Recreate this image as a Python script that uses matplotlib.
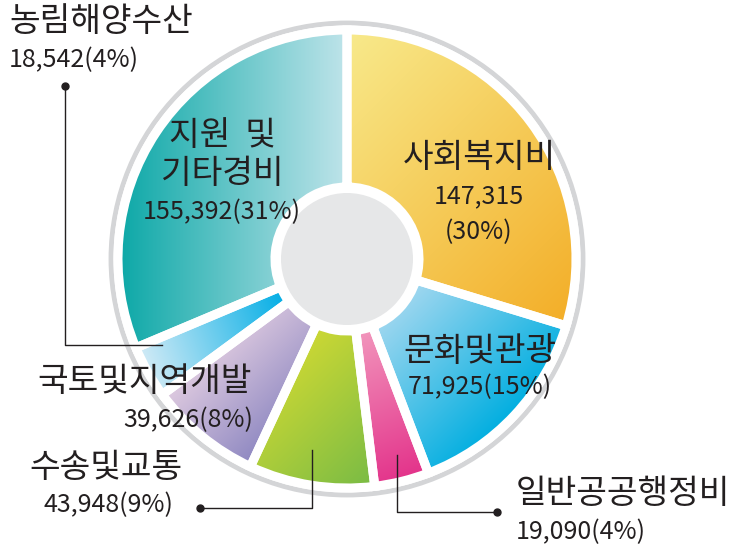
import numpy as np
import matplotlib
matplotlib.use('Agg')
import matplotlib.pyplot as plt
from matplotlib.patches import Wedge, Circle
from matplotlib.colors import to_rgb

plt.rcParams['font.family'] = ['Noto Sans CJK KR', 'DejaVu Sans']

# 예산 항목 (시계방향, 12시 방향부터)
names = ['사회복지비', '문화및관광', '일반공공행정비', '수송및교통', '국토및지역개발', '농림해양수산', '지원 및 기타경비']
values = [147315, 71925, 19090, 43948, 39626, 18542, 155392]
pct_labels = ['30%', '15%', '4%', '9%', '8%', '4%', '31%']
# 그라데이션 (시작색, 끝색, 방향 각도[deg, 화면기준])
grad_start = ['#f8ea8c', '#a3d8f0', '#f297bd', '#cdd834', '#dfcbe0', '#d3ebf6', '#0ca8a7']
grad_end = ['#f3ae28', '#00aee0', '#e3328a', '#78bb45', '#8d87c1', '#00ade5', '#bfe4ea']
grad_dir = [45, 45, 70, 45, 45, -20, 0]

W, H = 752, 551
fig = plt.figure(figsize=(W / 100, H / 100), dpi=100)
ax = fig.add_axes([0, 0, 1, 1])

cx, cy = 347, 259
r_out, r_in = 229, 72
txt = '#231f20'

# 바깥 회색 링
ax.add_patch(Circle((cx, cy), 236, fc='none', ec='#d4d5d7', lw=3.5, zorder=1))

total = sum(values)
start = -90.0
n = 300
xs = np.linspace(cx - r_out, cx + r_out, n)
ys = np.linspace(cy - r_out, cy + r_out, n)
X, Y = np.meshgrid(xs, ys)
for i, v in enumerate(values):
    span = v / total * 360
    t1, t2 = start, start + span
    clip = Wedge((cx, cy), r_out, t1, t2, width=r_out - r_in, fc='none', ec='none')
    ax.add_patch(clip)
    # 쐐기 영역에 맞춘 선형 그라데이션
    a = np.deg2rad(grad_dir[i])
    d = np.array([np.cos(a), np.sin(a)])
    th = np.deg2rad(np.linspace(t1, t2, 60))
    px = np.concatenate([cx + r_out * np.cos(th), cx + r_in * np.cos(th)])
    py = np.concatenate([cy + r_out * np.sin(th), cy + r_in * np.sin(th)])
    proj = px * d[0] + py * d[1]
    t = (X * d[0] + Y * d[1] - proj.min()) / (proj.max() - proj.min())
    t = np.clip(t, 0, 1)[..., None]
    c1, c2 = np.array(to_rgb(grad_start[i])), np.array(to_rgb(grad_end[i]))
    img = c1 * (1 - t) + c2 * t
    im = ax.imshow(img, extent=(xs[0], xs[-1], ys[-1], ys[0]), origin='upper',
                   interpolation='bilinear', zorder=2)
    im.set_clip_path(clip)
    ax.add_patch(Wedge((cx, cy), r_out, t1, t2, width=r_out - r_in,
                       fc='none', ec='white', lw=6.5, zorder=3))
    start = t2

ax.add_patch(Circle((cx, cy), 66, fc='#e6e7e8', ec='none', zorder=4))

big, small = 24, 18
def lab(x, y, s, size, ha='center'):
    ax.text(x, y, s, fontsize=size, color=txt, ha=ha, va='center', zorder=5)

lab(479, 158, names[0], big)
lab(479, 196, f'{values[0]:,}', small)
lab(479, 232, f'({pct_labels[0]})', small)

lab(480, 351, names[1], big)
lab(480, 387, f'{values[1]:,}({pct_labels[1]})', small)

lab(516, 494, names[2], big, ha='left')
lab(516, 532, f'{values[2]:,}({pct_labels[2]})', small, ha='left')

lab(29, 467, names[3], big, ha='left')
lab(44, 505, f'{values[3]:,}({pct_labels[3]})', small, ha='left')

lab(37, 382, '국토및지역개발', big, ha='left')
lab(253, 420, f'{values[4]:,}({pct_labels[4]})', small, ha='right')

lab(9, 22, names[5], big, ha='left')
lab(9, 60, f'{values[5]:,}({pct_labels[5]})', small, ha='left')

lab(222, 135, '지원  및', big)
lab(222, 174, '기타경비', big)
lab(222, 212, f'{values[6]:,}({pct_labels[6]})', small)

# 지시선
lc = '#231f20'
ax.plot([65, 65, 162], [86, 345, 345], color=lc, lw=1, zorder=6)
ax.plot([65], [86], 'o', color=lc, ms=5, zorder=6)
ax.plot([200, 312, 312], [508, 508, 450], color=lc, lw=1, zorder=6)
ax.plot([200], [508], 'o', color=lc, ms=5, zorder=6)
ax.plot([397, 397, 497], [455, 512, 512], color=lc, lw=1, zorder=6)
ax.plot([497], [512], 'o', color=lc, ms=5, zorder=6)

ax.set_xlim(0, W)
ax.set_ylim(H, 0)
ax.set_aspect('auto')
ax.axis('off')
fig.savefig('out.png', dpi=100)
